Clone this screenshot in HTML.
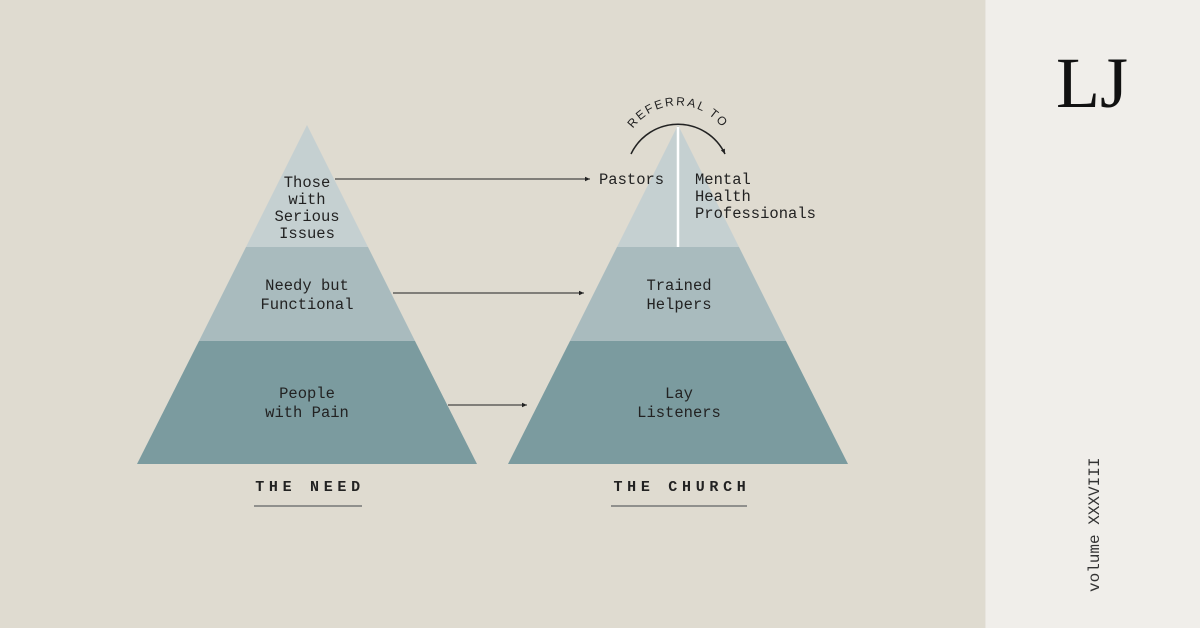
<!DOCTYPE html>
<html><head><meta charset="utf-8"><style>
html,body{margin:0;padding:0;width:1200px;height:628px;overflow:hidden;background:#dfdbd0}
svg{display:block}
</style></head><body>
<svg width="1200" height="628" viewBox="0 0 1200 628" xmlns="http://www.w3.org/2000/svg">
<defs>
<marker id="ah" markerWidth="6" markerHeight="6" refX="5" refY="3" orient="auto" markerUnits="userSpaceOnUse"><path d="M0,0.8 L5,3 L0,5.2 z" fill="#222"/></marker>
<path id="arc" d="M624,150 A55,55 0 0 1 732,150"/>
</defs>
<rect width="1200" height="628" fill="#dfdbd0"/>
<rect x="985" y="0" width="215" height="628" fill="#f0eeea"/>
<line x1="985.5" y1="0" x2="985.5" y2="628" stroke="#e8e5df"/>
<polygon points="307,125 368,247 246,247" fill="#c5d0d1"/>
<polygon points="246,247 368,247 415,341 199,341" fill="#a9bbbe"/>
<polygon points="199,341 415,341 477,464 137,464" fill="#7b9b9f"/>
<polygon points="678,125 739,247 617,247" fill="#c5d0d1"/>
<polygon points="617,247 739,247 786,341 570,341" fill="#a9bbbe"/>
<polygon points="570,341 786,341 848,464 508,464" fill="#7b9b9f"/>
<line x1="678" y1="127" x2="678" y2="247" stroke="#fff" stroke-width="2.5"/>
<g stroke="#222" stroke-width="1" fill="none">
<line x1="335" y1="179" x2="590" y2="179" marker-end="url(#ah)"/>
<line x1="393" y1="293" x2="584" y2="293" marker-end="url(#ah)"/>
<line x1="448" y1="405" x2="527" y2="405" marker-end="url(#ah)"/>
<path d="M631,154 A52,52 0 0 1 725,154" stroke-width="1.5" marker-end="url(#ah)"/>
</g>
<text font-family="Liberation Sans, sans-serif" font-size="12" letter-spacing="2" fill="#222"><textPath href="#arc" startOffset="50%" text-anchor="middle">REFERRAL TO</textPath></text>
<g font-family="Liberation Mono, monospace" font-size="15.5" fill="#222" text-anchor="middle">
<text x="307" y="187">Those</text>
<text x="307" y="204">with</text>
<text x="307" y="221">Serious</text>
<text x="307" y="238">Issues</text>
<text x="307" y="290">Needy but</text>
<text x="307" y="309">Functional</text>
<text x="307" y="398">People</text>
<text x="307" y="417">with Pain</text>
<text x="679" y="290">Trained</text>
<text x="679" y="309">Helpers</text>
<text x="679" y="398">Lay</text>
<text x="679" y="417">Listeners</text>
</g>
<g font-family="Liberation Mono, monospace" font-size="15.5" fill="#222">
<text x="599" y="184">Pastors</text>
<text x="695" y="184">Mental</text>
<text x="695" y="201">Health</text>
<text x="695" y="218">Professionals</text>
</g>
<g font-family="Liberation Mono, monospace" font-size="15" font-weight="bold" letter-spacing="4.7" fill="#222" text-anchor="middle">
<text x="310" y="491">THE NEED</text>
<text x="682" y="491">THE CHURCH</text>
</g>
<line x1="254" y1="506" x2="362" y2="506" stroke="#777" stroke-width="1.5"/>
<line x1="611" y1="506" x2="747" y2="506" stroke="#777" stroke-width="1.5"/>
<text x="1092" y="107" font-family="Liberation Serif, serif" font-size="72" fill="#111" text-anchor="middle">LJ</text>
<text transform="translate(1099,592) rotate(-90)" font-family="Liberation Mono, monospace" font-size="16" fill="#333">volume XXXVIII</text>
</svg>
</body></html>
